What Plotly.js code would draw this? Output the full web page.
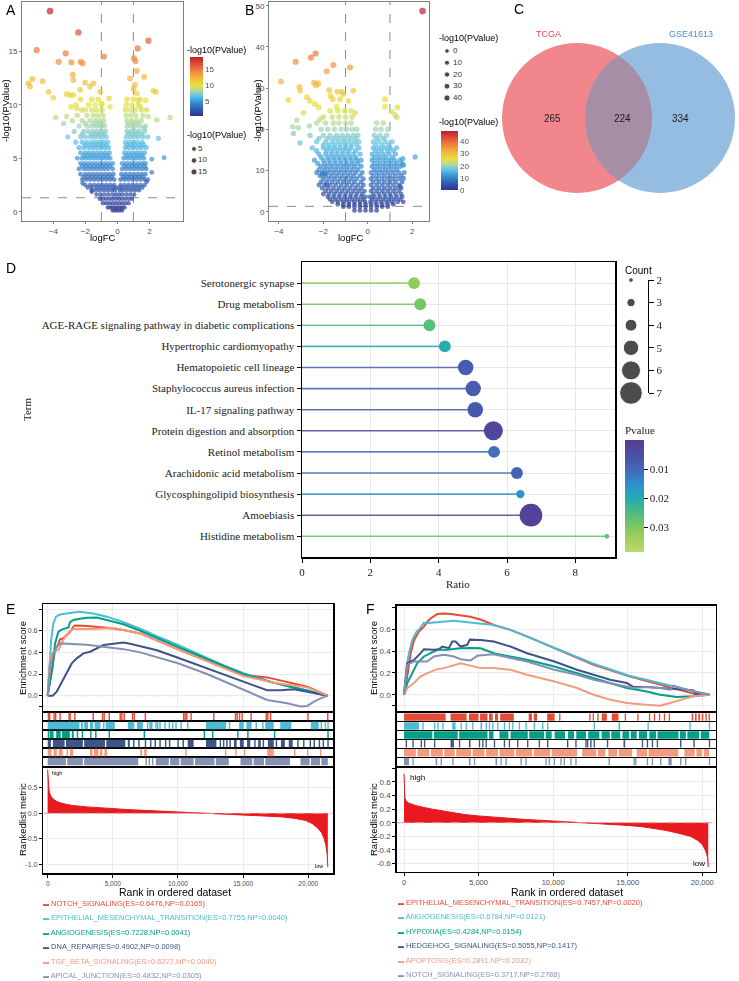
<!DOCTYPE html>
<html><head><meta charset="utf-8">
<script src="https://cdn.plot.ly/plotly-3.0.1.min.js"></script>
<style>html,body{margin:0;padding:0;background:#fff}#chart{width:739px;height:981px}</style>
</head><body><div id="chart"></div>
<script>
// ================= DATA =================
// Panel A: volcano (TCGA) - scattered points
const volcA_outFC = [-4.21,-2.44,-5.04,-3.23,-0.83,1.94,1.27,-3.67,-2.875,-2.29,-2.17,1.04,1.125,1.21,1.67,0.79,-5.56,-5.31,-5.46,-4.67,-2.79,-2.75,-2.02,-1.5,-1.71,-2.33,-1.08,2.25,2.4,-4.29,-4.0,-3.17,-2.96,-2.75,1.1,1.0,1.21,1.31,1.77,3.29,2.56,2.92,2.15,2.15,-3.85,-3.37,-3.17,-3.1,-2.23,-0.52,-0.46,-0.98,-2.9,-2.54,1.42,1.83,1.94,2.46,1.67,-2.17,-1.6,1.83];
const volcA_outP = [18.75,16.76,15.1,14.8,14.5,15.98,15.26,14.0,13.96,14.0,13.86,14.33,14.08,13.15,12.6,12.46,12.0,12.4,11.7,12.2,12.8,12.3,12.06,12.0,11.7,11.4,11.2,11.3,11.2,11.2,10.65,11.0,10.9,10.9,11.84,11.5,11.06,10.4,10.4,8.8,6.85,5.05,4.9,3.68,8.8,8.25,8.9,7.0,9.5,10.6,9.8,10.1,9.8,9.66,9.8,9.5,8.9,8.57,7.8,2.65,1.87,2.8];
// Panel A: dense core, one row of logFC values per -log10(P) level
const volcA_coreP = [0.1,0.4,0.8,1.2,1.6,2.0,2.5,3.0,3.5,4.0,4.5,5.0,5.5,6.0,6.5,7.0,7.5,8.0,8.5,9.0,9.5,10.0,10.5,2.25,3.25,4.25,5.25,6.25,7.25,8.25];
const volcA_coreFC = [
 [-0.3,-0.15,0,0.15,0.3],
 [-0.6,-0.45,-0.3,-0.15,0,0.15,0.3,0.45],
 [-0.9,-0.7,-0.5,-0.3,-0.1,0.1,0.3,0.5,0.7],
 [-1.1,-0.9,-0.7,-0.5,-0.3,-0.1,0.1,0.3,0.5,0.7,0.9],
 [-1.3,-1.05,-0.8,-0.55,-0.3,-0.1,0.1,0.3,0.55,0.8,1.05],
 [-1.6,-1.35,-1.1,-0.85,-0.6,-0.35,-0.15,0.15,0.35,0.6,0.85,1.1,1.35],
 [-2.0,-1.7,-1.45,-1.2,-0.95,-0.7,-0.45,-0.2,0.2,0.45,0.7,0.95,1.2,1.45,1.7],
 [-2.2,-1.95,-1.7,-1.45,-1.2,-0.95,-0.7,-0.45,-0.2,0.2,0.45,0.7,0.95,1.2,1.45,1.7,1.9],
 [-2.3,-2.0,-1.75,-1.5,-1.25,-1.0,-0.75,-0.5,-0.25,0.25,0.5,0.75,1.0,1.25,1.5,1.75],
 [-2.4,-2.1,-1.85,-1.6,-1.35,-1.1,-0.85,-0.6,-0.3,0.3,0.55,0.8,1.05,1.3,1.55,1.8],
 [-2.3,-2.05,-1.8,-1.55,-1.3,-1.05,-0.8,-0.55,-0.3,0.3,0.55,0.8,1.05,1.3,1.55,1.75],
 [-2.5,-2.2,-1.95,-1.7,-1.45,-1.2,-0.95,-0.7,-0.45,0.4,0.65,0.9,1.15,1.4,1.65],
 [-2.3,-2.0,-1.75,-1.5,-1.25,-1.0,-0.75,-0.5,0.45,0.7,0.95,1.2,1.45,1.7],
 [-2.4,-2.1,-1.8,-1.55,-1.3,-1.05,-0.8,-0.55,0.5,0.75,1.0,1.25,1.5,1.8],
 [-2.6,-2.2,-1.9,-1.6,-1.35,-1.1,-0.85,-0.6,0.5,0.75,1.0,1.25,1.55],
 [-2.3,-2.0,-1.7,-1.45,-1.2,-0.95,-0.7,0.55,0.8,1.05,1.3,1.6,1.9],
 [-2.7,-2.1,-1.8,-1.5,-1.25,-1.0,-0.75,0.6,0.85,1.1,1.35,1.7],
 [-2.4,-1.9,-1.6,-1.3,-1.05,-0.8,0.6,0.85,1.1,1.4,1.75],
 [-2.8,-2.2,-1.7,-1.35,-1.1,-0.85,0.6,0.9,1.2,1.5],
 [-2.5,-1.9,-1.5,-1.2,-0.9,0.55,0.85,1.15,1.6],
 [-2.0,-1.6,-1.3,-0.95,0.5,0.8,1.1,1.5],
 [-2.6,-1.8,-1.4,-1.0,0.55,0.9,1.3],
 [-2.3,-1.6,-1.2,0.6,1.0,1.4],
 [-1.85,-1.6,-1.3,-1.05,-0.8,-0.55,-0.3,-0.1,0.1,0.3,0.55,0.8,1.05,1.3,1.55],
 [-2.1,-1.85,-1.6,-1.35,-1.1,-0.85,-0.6,-0.35,0.35,0.6,0.85,1.1,1.35,1.6],
 [-2.2,-1.95,-1.7,-1.45,-1.2,-0.95,-0.7,-0.45,0.45,0.7,0.95,1.2,1.45,1.7],
 [-2.1,-1.85,-1.6,-1.35,-1.1,-0.85,-0.6,0.55,0.8,1.05,1.3,1.55],
 [-2.0,-1.7,-1.45,-1.2,-0.95,-0.7,0.6,0.85,1.1,1.4,1.65],
 [-2.2,-1.6,-1.35,-1.1,-0.85,0.7,0.95,1.2,1.5],
 [-2.0,-1.45,-1.2,-0.95,0.7,1.0,1.3]
];
const sizeLegendA = [5,10,15];

// Panel B: volcano (GSE41613)
const volcB_outFC = [2.47,-2.35,-2.56,-3.25,-1.55,-0.8,-1.85,-3.91,-2.42,-2.23,-2.33,-3.08,-3.05,-1.74,-0.65,-1.37,-1.17,-1.1,-2.74,-3.58,-2.6,-1.67,-1.58,-1.25,-0.87,0.78,-2.38,-2.2,0.78,1.34,1.08,-2.9,-2.15,1.31,-3.2,1.23,-3.38,-3.13,-2.63,-3.35,-3.05,-0.57,-1.4,2.14,1.58,1.61,1.64,1.61,-1.85,-1.92,-2.05,1.46];
const volcB_outP = [48.7,38.4,37.4,36.4,35.6,35.0,34.1,31.6,31.3,31.1,30.7,30.3,29.4,29.5,29.4,29.1,29.1,28.5,27.8,27.1,26.9,28.1,27.3,27.3,26.9,27.3,26.1,25.3,25.5,25.3,24.3,24.0,22.4,22.9,22.2,23.5,20.6,20.4,20.8,19.0,16.7,24.0,25.5,13.3,12.9,11.3,9.5,8.1,6.5,9.3,9.1,6.1];
const volcB_coreP = [0.3,1.2,2.4,3.6,5.0,6.5,8.0,9.5,11.0,12.5,14.0,15.5,17.0,18.5,20.0,21.5,23.0,24.5,1.8,3.0,4.3,5.7,7.2,8.7,10.2,11.7,13.2,14.8,16.2,17.8];
const volcB_coreFC = [
 [-0.6,-0.35,-0.1,0.15,0.4],
 [-1.1,-0.85,-0.6,-0.35,-0.1,0.15,0.4,0.65,0.9],
 [-1.6,-1.35,-1.1,-0.85,-0.6,-0.35,-0.12,0.12,0.35,0.6,0.85,1.1,1.35,1.6],
 [-1.8,-1.55,-1.3,-1.05,-0.8,-0.55,-0.3,-0.1,0.1,0.3,0.55,0.8,1.05,1.3,1.55],
 [-1.9,-1.65,-1.4,-1.15,-0.9,-0.65,-0.4,-0.15,0.15,0.4,0.65,0.9,1.15,1.4],
 [-2.2,-1.95,-1.7,-1.45,-1.2,-0.95,-0.7,-0.45,-0.2,0.15,0.4,0.65,0.9,1.15,1.4],
 [-2.0,-1.75,-1.5,-1.25,-1.0,-0.75,-0.5,-0.2,0.15,0.4,0.65,0.9,1.15,1.4],
 [-2.3,-2.05,-1.8,-1.55,-1.3,-1.05,-0.8,-0.55,-0.25,0.15,0.4,0.65,0.9,1.15,1.4],
 [-2.1,-1.85,-1.6,-1.35,-1.1,-0.85,-0.6,-0.3,0.2,0.45,0.7,0.95,1.2,1.45],
 [-2.4,-2.0,-1.75,-1.5,-1.25,-1.0,-0.75,-0.5,-0.3,0.2,0.45,0.7,0.95,1.2,1.45],
 [-2.2,-1.9,-1.65,-1.4,-1.15,-0.9,-0.65,-0.35,0.2,0.45,0.7,0.95,1.25],
 [-2.5,-2.0,-1.75,-1.5,-1.25,-1.0,-0.75,-0.4,0.25,0.5,0.75,1.0,1.3],
 [-2.3,-1.9,-1.6,-1.35,-1.1,-0.85,-0.6,-0.4,0.25,0.5,0.8,1.1],
 [-2.6,-2.0,-1.7,-1.4,-1.15,-0.9,-0.65,-0.45,0.3,0.55,0.85],
 [-2.1,-1.8,-1.5,-1.2,-0.95,-0.7,-0.5,0.35,0.6,0.9],
 [-2.3,-1.9,-1.55,-1.3,-1.0,-0.75,0.4,0.7],
 [-2.0,-1.6,-1.3,-1.0,-0.7],
 [-1.7,-1.35,-1.05,-0.75],
 [-1.35,-1.1,-0.85,-0.6,-0.35,-0.1,0.15,0.4,0.65,0.9,1.15],
 [-1.7,-1.45,-1.2,-0.95,-0.7,-0.45,-0.2,0.2,0.45,0.7,0.95,1.2,1.45],
 [-2.0,-1.75,-1.5,-1.25,-1.0,-0.75,-0.5,-0.25,0.25,0.5,0.75,1.0,1.25,1.5],
 [-2.05,-1.8,-1.55,-1.3,-1.05,-0.8,-0.55,-0.3,0.25,0.5,0.75,1.0,1.25,1.5],
 [-2.1,-1.85,-1.6,-1.35,-1.1,-0.85,-0.6,-0.3,0.25,0.5,0.75,1.0,1.25,1.55],
 [-2.15,-1.9,-1.65,-1.4,-1.15,-0.9,-0.65,-0.35,0.25,0.5,0.75,1.0,1.25,1.5],
 [-2.2,-1.95,-1.7,-1.45,-1.2,-0.95,-0.7,-0.45,0.3,0.55,0.8,1.05,1.3],
 [-2.25,-1.95,-1.7,-1.45,-1.2,-0.95,-0.7,-0.45,0.3,0.55,0.8,1.05,1.3,1.55],
 [-2.1,-1.8,-1.55,-1.3,-1.05,-0.8,-0.55,0.3,0.55,0.8,1.1],
 [-2.3,-1.85,-1.6,-1.35,-1.1,-0.85,-0.55,0.35,0.6,0.9,1.15],
 [-2.0,-1.75,-1.5,-1.25,-1.0,-0.75,-0.5,0.35,0.65,0.95],
 [-2.2,-1.8,-1.55,-1.3,-1.05,-0.8,-0.55,0.4,0.7]
];
const sizeLegendB = [0,10,20,30,40];

// Panel C: Venn
const vennSets = ['TCGA','GSE41613'];
const vennCounts = [265,224,334]; // TCGA only, both, GSE41613 only

// Panel D: KEGG lollipop
const termsD = ['Serotonergic synapse','Drug metabolism','AGE-RAGE signaling pathway in diabetic complications','Hypertrophic cardiomyopathy','Hematopoietic cell lineage','Staphylococcus aureus infection','IL-17 signaling pathway','Protein digestion and absorption','Retinol metabolism','Arachidonic acid metabolism','Glycosphingolipid biosynthesis','Amoebiasis','Histidine metabolism'];
const ratioD = [3.28,3.46,3.73,4.18,4.79,5.01,5.07,5.60,5.62,6.29,6.39,6.70,8.92];
const countD = [4,4,4,4,5,5,5,6,4,4,3,7,2];
const pvalD = [0.032,0.029,0.026,0.020,0.008,0.0075,0.007,0.003,0.011,0.009,0.016,0.002,0.027];
const countLegend = [2,3,4,5,6,7];

// Panel E: GSEA (set order = legend order)
const namesE = ['NOTCH_SIGNALING','EPITHELIAL_MESENCHYMAL_TRANSITION','ANGIOGENESIS','DNA_REPAIR','TGF_BETA_SIGNALING','APICAL_JUNCTION'];
const esE = [0.6476,0.7755,0.7228,0.4902,0.6227,0.4832];
const npE = [0.0165,0.0040,0.0041,0.0098,0.0040,0.0305];
const rankE = [
 [0,308,564,820,949,1205,1462,1718,1974,2102,2743,3513,4538,5820,7102,10000,15000,16845,18897,19922,21500],
 [0,130,260,440,640,950,1460,1970,2360,2740,3510,4540,5820,7100,8380,10000,11720,13510,15000,16850,18380,19920,20690,21500],
 [0,180,385,564,820,1077,1333,1590,1718,1974,2487,3000,3769,4538,5820,7102,10000,15000,17359,19922,20948,21500],
 [0,385,692,949,1205,1462,1846,2230,2743,3256,3769,4282,5051,5820,6333,7102,8384,10000,12230,15000,16845,17871,18897,19922,20948,21500],
 [0,128,256,436,820,1077,1333,1718,1974,2743,3513,4538,5307,6077,7102,10000,15000,17359,18897,19922,21500],
 [0,180,436,692,949,1462,2230,3000,3769,4538,5820,7102,10000,12230,15000,16845,18384,19410,19922,20435,20948,21500]
];
const scoreE = [
 [0,0.21,0.42,0.48,0.52,0.53,0.56,0.59,0.637,0.648,0.645,0.637,0.628,0.607,0.575,0.428,0.191,0.169,0.114,0.083,0],
 [0,0.27,0.51,0.67,0.73,0.75,0.76,0.77,0.7755,0.77,0.76,0.73,0.68,0.62,0.55,0.47,0.38,0.28,0.21,0.135,0.09,0.05,0.02,0],
 [0,0.11,0.27,0.48,0.59,0.61,0.62,0.63,0.68,0.70,0.71,0.72,0.7228,0.70,0.66,0.60,0.45,0.20,0.12,0.045,0.012,0],
 [0,0,0.037,0.098,0.16,0.222,0.298,0.345,0.391,0.406,0.437,0.468,0.48,0.4902,0.48,0.455,0.42,0.35,0.25,0.13,0.05,0.05,0.06,0.037,0.012,0],
 [0,0.268,0.375,0.406,0.422,0.483,0.545,0.60,0.615,0.615,0.615,0.6227,0.62,0.60,0.575,0.428,0.182,0.12,0.098,0.077,0],
 [0,0.268,0.391,0.452,0.4832,0.48,0.48,0.47,0.46,0.45,0.43,0.40,0.30,0.20,0.06,-0.04,-0.07,-0.10,-0.095,-0.055,-0.025,0]
];
// gene hits: single rank or [start,end] run of adjacent hits
const hitsE = [
 [0,100,435,560,900,1590,1670,2030,3440,4150,4280,4670,5510,5640,5820,6460,6590,7440,10380,10490,10620,10950,12690,14360,14490,14670,14870,15560,16720,16840,17050,19920,21440],
 [[0,2440],[2550,2700],[2800,3100],[3250,3500],[3600,4050],[4250,4350],[4450,5150],[6150,6650],[6850,7300],7615,[7800,8050],8256,8384,8564,8948,9282,9538,9794,10179,10692,[12150,13700],13897,[14700,15050],[15250,15650],15948,16461,[16700,17350],[17850,18700],[20200,20800],20948,21256,21460],
 [[0,100],[150,450],[650,1000],[1100,1700],[1850,2000],2230,2615,3260,3640,4670,7360,11970,12610,14540,15310,17360,21460],
 [[0,250],[400,1300],[1400,2700],[2800,4400],[4500,5950],[6150,6300],[6550,6650],[6950,7050],[7450,7550],[7850,7950],[8200,8300],8570,[9000,9100],[9300,9400],[9950,10050],[10350,10450],[10750,11200],[12150,12950],[13200,13300],[13450,13550],[13700,13800],[13950,14050],[14300,14500],[14750,15050],[15300,15550],[15850,15950],[16150,16350],[16500,16600],[16900,17350],[17500,17600],[17900,18200],[18500,18800],[19150,19250],[19600,19700],[20100,20200],[20400,20500],[20800,20900],[21100,21200],21460],
 [[0,300],[450,700],[850,1150],[1450,1550],[1700,1950],[3250,3450],[3550,3900],[4000,4200],[4350,4550],[7100,7250],[7400,7600],10560,13600,14400,15050,[16850,17350],18900,19900,20900],
 [[0,1400],[1500,2700],[2800,6950],7500,7750,8000,[8300,9300],[9400,10100],[10200,11200],[11300,12800],[12900,13900],[14800,15700],[15800,16600],[16700,18600],[19400,20100],[20200,20900],[21000,21500]]
];
const metricE_rank = [0,30,100,200,400,700,1000,1500,2000,3000,4000,5000,6000,7000,8000,9000,10000,11000,12000,13000,14000,15000,16000,17000,18000,19000,19800,20300,20700,21000,21200,21350,21450,21500];
const metricE_val = [0.85,0.7,0.45,0.35,0.28,0.23,0.2,0.17,0.15,0.125,0.105,0.09,0.075,0.062,0.05,0.04,0.03,0.02,0.01,0.002,-0.008,-0.02,-0.032,-0.05,-0.07,-0.1,-0.14,-0.2,-0.28,-0.37,-0.48,-0.62,-0.8,-1.05];

// Panel F: GSEA
const namesF = ['EPITHELIAL_MESENCHYMAL_TRANSITION','ANGIOGENESIS','HYPOXIA','HEDGEHOG_SIGNALING','APOPTOSIS','NOTCH_SIGNALING'];
const esF = [0.7457,0.6784,0.4284,0.5055,0.2891,0.3717];
const npF = [0.0020,0.0121,0.0154,0.1417,0.2082,0.2788];
const rankF = [
 [0,223,446,669,1004,1338,1561,1784,2230,2676,3122,3791,4460,5129,6021,7136,8251,10080,11596,12711,15097,17171,18509,19401,20470],
 [0,178,335,558,847,1004,1338,1561,2007,2676,3345,3791,4460,5129,6021,7136,8251,10080,11596,12711,15097,17171,18509,19401,20470],
 [0,223,558,892,1338,1784,2230,2899,3791,4460,5129,6021,7136,8251,10080,11596,12711,13826,14941,16279,17171,18286,18955,19401,20470],
 [0,223,446,669,1115,1338,2007,2342,2565,3011,3234,3457,3791,4237,4415,5129,6021,7136,8251,10080,11596,12711,13826,14941,15387,16279,17171,18063,18732,19401,19513,20470],
 [0,223,669,1115,1561,2230,2676,3345,3791,4237,5129,6021,7136,8251,10080,11596,12711,13826,14941,16056,17171,17840,18509,19401,20470],
 [0,223,669,1115,1561,2007,2676,3345,3791,4460,4906,5575,6021,6690,8251,10080,11596,12711,13826,14941,15387,16279,17171,17840,18063,18732,19401,20470]
];
const scoreF = [
 [0,0.17,0.38,0.50,0.58,0.625,0.67,0.70,0.74,0.7457,0.74,0.73,0.716,0.69,0.64,0.595,0.535,0.427,0.335,0.274,0.168,0.091,0.046,0.01,0],
 [0,0.259,0.381,0.503,0.579,0.595,0.662,0.655,0.662,0.671,0.6784,0.671,0.662,0.655,0.640,0.595,0.534,0.427,0.345,0.284,0.174,0.107,0.061,0.030,0],
 [0,0.107,0.198,0.29,0.351,0.381,0.412,0.412,0.427,0.4284,0.427,0.381,0.351,0.32,0.259,0.198,0.152,0.107,0.061,0.03,0,-0.021,-0.021,-0.015,0],
 [0,0.29,0.305,0.32,0.381,0.418,0.412,0.418,0.442,0.427,0.488,0.488,0.442,0.457,0.5055,0.503,0.488,0.442,0.381,0.305,0.229,0.183,0.137,0.107,0.070,0.070,0.061,0.052,0.040,0.040,0.009,0],
 [0,0.061,0.107,0.168,0.198,0.235,0.244,0.274,0.2891,0.274,0.244,0.244,0.229,0.183,0.122,0.061,0,-0.046,-0.076,-0.091,-0.101,-0.076,-0.052,-0.015,0],
 [0,0.274,0.305,0.305,0.305,0.351,0.366,0.351,0.326,0.314,0.357,0.366,0.3717,0.351,0.305,0.229,0.183,0.137,0.107,0.076,0.061,0.070,0.061,0.046,0.082,0.052,0.030,0]
];
const hitsF = [
 [[0,2790],[3120,4200],[4350,5000],[5100,5600],[5700,5950],[6100,6300],[6450,7360],[8360,8580],[8700,8920],[9600,10100],10400,12420,12650,12960,[13260,13600],[13930,14380],14800,15640,16420,16750,17090,17420,17750,[19290,19400],[19510,19620],[19730,19850],[19960,20070],20210,20420],
 [[0,1000],1227,2007,2230,2565,[3234,3457],3791,4126,4572,[5129,5240],5464,5687,5910,6244,6690,7025,7248,7694,8140,8697,9255,9589,12711,[14384,14495],16324,19133,20440],
 [[0,1900],[2000,3600],[3700,5600],[5700,6000],[6400,7000],[7150,8300],[8400,9400],[9500,9900],[10100,10800],[11000,11400],[11550,12200],[12350,13100],[13250,13800],[13900,14500],[14650,15100],[15200,15600],[15750,16300],[16450,16900],[17000,18400],[18500,18900],[19000,19800],[19900,20470]],
 [111,558,1115,1338,2007,[3122,3345],3680,[4349,4460],5018,5241,5464,6021,6690,7025,7582,8251,9032,9589,10927,11485,12154,12265,12488,12711,13603,[14718,14830],15945,16279,16614,16948,18509,19401,20440],
 [[0,800],[900,1700],[1800,2600],[2700,3400],[3500,4500],[4600,5400],[5500,6300],[6400,7400],[7500,8600],[8700,9800],[9900,11600],[11950,12900],[13000,13500],[13700,14300],[14400,15300],[15600,16300],[16400,18400],[18800,19500],[19600,20000],[20100,20470]],
 [[0,335],558,[2118,2230],2453,3234,[4349,4460],4683,[6132,6244],6467,6802,7805,8140,9478,9701,10035,10481,10704,11150,11485,13715,15387,15498,16279,16614,17171,[17728,17951],18509,18843,20440]
];
const metricF_rank = [0,20,60,150,300,700,1000,1860,2970,4070,5000,6000,7000,8000,9000,10000,11000,12000,13000,14000,15000,16000,17000,17500,18500,19200,19700,20000,20200,20350,20400];
const metricF_val = [0.72,0.5,0.36,0.32,0.29,0.26,0.24,0.2,0.16,0.12,0.1,0.08,0.065,0.05,0.038,0.025,0.015,0.005,-0.005,-0.02,-0.04,-0.06,-0.09,-0.11,-0.16,-0.2,-0.26,-0.32,-0.4,-0.5,-0.65];

// ================= STYLE / BUILD =================
const W = 739, H = 981;
const px = v => v / W, py = v => 1 - v / H;
const xd = (a, b) => [a / W, b / W];
const yd = (top, bot) => [1 - bot / H, 1 - top / H];
const SANS = 'Liberation Sans, Arial, sans-serif';
const SERIF = 'Liberation Serif, Times New Roman, serif';
const pal = ['#E64B35','#4DBBD5','#00A087','#3C5488','#F39B7F','#8491B4'];
const volcScale = [[0,'#2c3591'],[0.12,'#2f5cb0'],[0.25,'#3a98d8'],[0.33,'#5cbfe6'],[0.42,'#a6d5b0'],[0.52,'#e6e23a'],[0.66,'#f4b23e'],[0.82,'#ea6a3c'],[1,'#be1e2d']];
const pScale = [[0,'#bcdb6a'],[0.18,'#8fca5c'],[0.33,'#55bd7c'],[0.47,'#25adae'],[0.6,'#2f90cf'],[0.74,'#4567b8'],[0.87,'#4a4fa3'],[1,'#5a3a92']];
const sizeA = v => 4.3 + 0.13 * v;
const sizeB = v => 4.7 + 0.04 * v;
const sizeD = c => 3.6 * c - 2.5;

function flatten(levels, rows) {
  const pts = [];
  levels.forEach((lv, i) => rows[i].forEach(x => pts.push([x, lv])));
  pts.sort((a, b) => a[1] - b[1]);
  return [pts.map(p => p[0]), pts.map(p => p[1])];
}
const [coreAx, coreAy] = flatten(volcA_coreP, volcA_coreFC);
const [coreBx, coreBy] = flatten(volcB_coreP, volcB_coreFC);
const Ax = coreAx.concat(volcA_outFC), Ay = coreAy.concat(volcA_outP);
const Bx = coreBx.concat(volcB_outFC), By = coreBy.concat(volcB_outP);

const traces = [];
// A volcano
traces.push({type:'scatter', mode:'markers', xaxis:'x', yaxis:'y', x:Ax, y:Ay, hoverinfo:'skip',
  marker:{size:Ay.map(sizeA), color:Ay, colorscale:volcScale, cmin:0.3, cmax:19, line:{width:0},
    colorbar:{x:px(190), xanchor:'left', y:py(116), yanchor:'bottom', len:59, lenmode:'pixels', thickness:13,
      xpad:0, ypad:0, outlinewidth:0, ticks:'', tickvals:[5,10,15], tickfont:{family:SANS, size:8, color:'#4d4d4d'}, title:{text:''}}}});
traces.push({type:'scatter', mode:'markers', xaxis:'x3', yaxis:'y3', x:sizeLegendA.map(()=>9), y:sizeLegendA,
  marker:{size:sizeLegendA.map(sizeA), color:'#000'}, hoverinfo:'skip', cliponaxis:false});
traces.push({type:'scatter', mode:'text', xaxis:'x3', yaxis:'y3', x:sizeLegendA.map(()=>13), y:sizeLegendA,
  text:sizeLegendA.map(String), textposition:'middle right', textfont:{family:SANS, size:8, color:'#333'}, hoverinfo:'skip', cliponaxis:false});
// B volcano
traces.push({type:'scatter', mode:'markers', xaxis:'x2', yaxis:'y2', x:Bx, y:By, hoverinfo:'skip',
  marker:{size:By.map(sizeB), color:By, colorscale:volcScale, cmin:0, cmax:48.7, line:{width:0},
    colorbar:{x:px(441), xanchor:'left', y:py(190), yanchor:'bottom', len:59, lenmode:'pixels', thickness:17,
      xpad:0, ypad:0, outlinewidth:0, ticks:'', tickvals:[0,10,20,30,40], tickfont:{family:SANS, size:8, color:'#4d4d4d'}, title:{text:''}}}});
traces.push({type:'scatter', mode:'markers', xaxis:'x4', yaxis:'y4', x:sizeLegendB.map(()=>10), y:sizeLegendB,
  marker:{size:sizeLegendB.map(sizeB), color:'#000'}, hoverinfo:'skip', cliponaxis:false});
traces.push({type:'scatter', mode:'text', xaxis:'x4', yaxis:'y4', x:sizeLegendB.map(()=>16), y:sizeLegendB,
  text:sizeLegendB.map(String), textposition:'middle right', textfont:{family:SANS, size:8, color:'#333'}, hoverinfo:'skip', cliponaxis:false});
// D lollipop
const negP = pvalD.map(p => -p);
traces.push({type:'bar', orientation:'h', xaxis:'x5', yaxis:'y5', y:termsD, x:ratioD, base:0, width:0.075, opacity:0.85,
  marker:{color:negP, colorscale:pScale, cmin:-0.0385, cmax:0, line:{width:0}}, hoverinfo:'skip'});
traces.push({type:'scatter', mode:'markers', xaxis:'x5', yaxis:'y5', y:termsD, x:ratioD, hoverinfo:'skip', cliponaxis:false,
  marker:{size:countD.map(sizeD), color:negP, colorscale:pScale, cmin:-0.0385, cmax:0, opacity:1, line:{width:0},
    colorbar:{x:px(625), xanchor:'left', y:py(552), yanchor:'bottom', len:112, lenmode:'pixels', thickness:19,
      xpad:0, ypad:0, outlinewidth:0, ticks:'outside', ticklen:4, tickcolor:'#000', tickwidth:1,
      tickvals:[-0.01,-0.02,-0.03], ticktext:['0.01','0.02','0.03'], tickfont:{family:SERIF, size:11, color:'#222'}, title:{text:''}}}});
traces.push({type:'scatter', mode:'markers', xaxis:'x6', yaxis:'y6', x:countLegend.map(()=>0), y:countLegend,
  marker:{size:countLegend.map(sizeD), color:'#000'}, hoverinfo:'skip', cliponaxis:false});

// GSEA builder
function hitBars(hits, xa, ya, minW) {
  return hits.map((segs, i) => ({type:'bar', orientation:'h', xaxis:xa, yaxis:ya,
    y:segs.map(() => 5.5 - i),
    base:segs.map(s => Array.isArray(s) ? s[0] : s),
    x:segs.map(s => Array.isArray(s) ? Math.max(s[1] - s[0], minW) : minW),
    width:0.84, marker:{color:pal[i], line:{width:0}}, hoverinfo:'skip'}));
}
function gsea(ranks, scores, hits, mR, mV, xs, minW) {
  ranks.forEach((r, i) => traces.push({type:'scatter', mode:'lines', xaxis:xs[0], yaxis:xs[1], x:r, y:scores[i],
    line:{color:pal[i], width:2}, hoverinfo:'skip'}));
  hitBars(hits, xs[2], xs[3], minW).forEach(t => traces.push(t));
  traces.push({type:'scatter', mode:'lines', xaxis:xs[4], yaxis:xs[5], x:mR, y:mV, fill:'tozeroy',
    fillcolor:'#E8191F', line:{color:'#E8191F', width:1}, hoverinfo:'skip'});
}
gsea(rankE, scoreE, hitsE, metricE_rank, metricE_val, ['x7','y7','x8','y8','x9','y9'], 110);
gsea(rankF, scoreF, hitsF, metricF_rank, metricF_val, ['x10','y10','x11','y11','x12','y12'], 90);

// ---- axes
const base = {showgrid:false, zeroline:false, showline:false, ticks:'', showticklabels:false, fixedrange:true};
const ax = o => Object.assign({}, base, o);
const volcStyle = {showline:true, mirror:true, linecolor:'#7f7f7f', linewidth:1, ticks:'outside', ticklen:2, tickcolor:'#7f7f7f',
  showticklabels:true, tickfont:{family:SANS, size:8, color:'#4d4d4d'}};
const gx = (d, r, lab, grid, fs) => ax({domain:xd(d[0], d[1]), range:r, showline:true, mirror:true, linecolor:'#000', linewidth:1.4,
  showgrid:grid, gridcolor:'#ececec', tickvals:[0,5000,10000,15000,20000], ticks:lab ? 'outside' : '', ticklen:3, tickcolor:'#000',
  showticklabels:lab, tickformat:',', tickfont:{family:SANS, size:fs, color:'#4d4d4d'}});
const gy = (t, b, r, tv, tt, fs) => ax({domain:yd(t, b), range:r, showline:true, mirror:true, linecolor:'#000', linewidth:1.4,
  showgrid:true, gridcolor:'#ececec', tickvals:tv, ticktext:tt, ticks:'outside', ticklen:3, tickcolor:'#000',
  showticklabels:true, tickfont:{family:SANS, size:fs, color:'#4d4d4d'}});
const hy = (t, b) => ax({domain:yd(t, b), range:[0,6], showline:true, mirror:true, linecolor:'#000', linewidth:1.4,
  showgrid:true, gridcolor:'#000', gridwidth:1.2, tickvals:[1,2,3,4,5]});

const EX = [43.3, 333.3], ER = [-337, 21920];
const FX = [396.7, 716], FR = [-490, 20920];
const esTicks = [-0.1,0,0.2,0.4,0.6,0.8], esText = ['','0.0','0.2','0.4','0.6',''];

const layout = {
  width:W, height:H, margin:{l:0, r:0, t:0, b:0}, paper_bgcolor:'#fff', plot_bgcolor:'rgba(0,0,0,0)',
  showlegend:false, barmode:'overlay', font:{family:SANS, color:'#000'},
  xaxis: ax(Object.assign({}, volcStyle, {domain:xd(22,183), range:[-5.96,4.1], tickvals:[-4,-2,0,2], anchor:'y'})),
  yaxis: ax(Object.assign({}, volcStyle, {domain:yd(2,221), range:[-0.87,19.6], tickvals:[0,5,10,15], anchor:'x'})),
  xaxis2: ax(Object.assign({}, volcStyle, {domain:xd(269,429), range:[-4.45,2.76], tickvals:[-4,-2,0,2], anchor:'y2'})),
  yaxis2: ax(Object.assign({}, volcStyle, {domain:yd(2,221), range:[-2.26,50.9], tickvals:[0,10,20,30,40,50], anchor:'x2'})),
  xaxis3: ax({domain:xd(185,245), range:[0,60], anchor:'y3'}),
  yaxis3: ax({domain:yd(140,180), range:[18.5,1.09], anchor:'x3'}),
  xaxis4: ax({domain:xd(437,497), range:[0,60], anchor:'y4'}),
  yaxis4: ax({domain:yd(44,104), range:[45.1,-5.96], anchor:'x4'}),
  xaxis5: ax({domain:xd(302,615), range:[0,9.16], anchor:'y5', showgrid:true, gridcolor:'#e6e6e6', showline:true, mirror:true,
    linecolor:'#000', linewidth:1.5, ticks:'outside', ticklen:4, tickcolor:'#000', showticklabels:true, tickvals:[0,2,4,6,8],
    tickfont:{family:SERIF, size:11, color:'#222'}}),
  yaxis5: ax({domain:yd(262,557), type:'category', categoryorder:'array', categoryarray:termsD, range:[12.98,-1], anchor:'x5',
    showgrid:true, gridcolor:'#e6e6e6', showline:true, mirror:true, linecolor:'#000', linewidth:1.5, ticks:'outside', ticklen:4,
    tickcolor:'#000', showticklabels:true, tickfont:{family:SERIF, size:11, color:'#222'}}),
  xaxis6: ax({domain:xd(620,642), range:[-1.64,1.64], anchor:'y6'}),
  yaxis6: ax({domain:yd(280,393), range:[7,2], anchor:'free', position:px(648), side:'right', showline:true, linecolor:'#000',
    linewidth:1.2, ticks:'outside', ticklen:5, tickcolor:'#000', tickvals:countLegend, showticklabels:true,
    tickfont:{family:SERIF, size:11, color:'#222'}}),
  xaxis7: Object.assign(gx(EX, ER, false, true, 7), {anchor:'y7'}),
  yaxis7: Object.assign(gy(604, 711.7, [-0.148,0.847], esTicks, esText, 7), {anchor:'x7'}),
  xaxis8: Object.assign(gx(EX, ER, false, false, 7), {anchor:'y8'}),
  yaxis8: Object.assign(hy(712, 766), {anchor:'x8'}),
  xaxis9: Object.assign(gx(EX, ER, true, true, 6.5), {anchor:'y9'}),
  yaxis9: Object.assign(gy(767.7, 873.3, [-1.17,0.889], [-1,-0.5,0,0.5], ['-1.0','-0.5','0.0','0.5'], 7), {anchor:'x9'}),
  xaxis10: Object.assign(gx(FX, FR, false, true, 8), {anchor:'y10'}),
  yaxis10: Object.assign(gy(605.7, 711.7, [-0.156,0.817], esTicks, esText, 8), {anchor:'x10'}),
  xaxis11: Object.assign(gx(FX, FR, false, false, 8), {anchor:'y11'}),
  yaxis11: Object.assign(hy(712.7, 766), {anchor:'x11'}),
  xaxis12: Object.assign(gx(FX, FR, true, true, 7.5), {anchor:'y12'}),
  yaxis12: Object.assign(gy(767.7, 871.7, [-0.72,0.809], [-0.6,-0.4,-0.2,0,0.2,0.4,0.6,0.8], ['-0.6','-0.4','-0.2','0.0','0.2','0.4','0.6',''], 8), {anchor:'x12'})
};

// ---- shapes
const dashV = (xa, ya, x) => ({type:'line', xref:xa, yref:ya + ' domain', x0:x, x1:x, y0:0, y1:1, layer:'below', line:{color:'#8a8a8a', width:1, dash:'dash'}});
const dashH = (xa, ya, y, col) => ({type:'line', xref:xa + ' domain', yref:ya, x0:0, x1:1, y0:y, y1:y, layer:'below', line:{color:col || '#8a8a8a', width:1, dash:'dash'}});
const pCut = -Math.log10(0.05);
const shapes = [
  dashV('x','y',-1), dashV('x','y',1), dashH('x','y',pCut),
  dashV('x2','y2',-1), dashV('x2','y2',1), dashH('x2','y2',pCut),
  dashH('x7','y7',0,'#c8c8c8'), dashH('x10','y10',0,'#c8c8c8'),
  Object.assign(dashH('x9','y9',0,'#e89a9a'), {layer:'above'}), Object.assign(dashH('x12','y12',0,'#e89a9a'), {layer:'above'})
];
// Venn circles + overlap lens
const vc = [{cx:577, cy:118, r:75, col:'#F1868D'}, {cx:660, cy:118, r:75, col:'#95BDE1'}];
vc.forEach(c => shapes.push({type:'circle', xref:'paper', yref:'paper', x0:px(c.cx - c.r), x1:px(c.cx + c.r), y0:py(c.cy + c.r), y1:py(c.cy - c.r), fillcolor:c.col, line:{width:0}}));
(function () {
  const c1 = vc[0], c2 = vc[1], r = c1.r, a = (c2.cx - c1.cx) / 2, h = Math.sqrt(r * r - a * a), t = Math.atan2(h, a);
  const pts = [];
  for (let k = 0; k <= 40; k++) { const g = -t + 2 * t * k / 40; pts.push([c1.cx + r * Math.cos(g), c1.cy + r * Math.sin(g)]); }
  for (let k = 0; k <= 40; k++) { const g = Math.PI - t + 2 * t * k / 40; pts.push([c2.cx + r * Math.cos(g), c2.cy + r * Math.sin(g)]); }
  shapes.push({type:'path', xref:'paper', yref:'paper', path:'M' + pts.map(p => px(p[0]).toFixed(5) + ',' + py(p[1]).toFixed(5)).join('L') + 'Z', fillcolor:'#A78EA7', line:{width:0}});
})();
layout.shapes = shapes;

// ---- annotations
const ann = (x, y, text, o) => Object.assign({xref:'paper', yref:'paper', x:px(x), y:py(y), text:text, showarrow:false, xanchor:'center', yanchor:'middle',
  font:{family:SANS, size:9, color:'#000'}}, o || {});
const anns = [
  ann(4, 10, 'A', {xanchor:'left', font:{family:SANS, size:14}}),
  ann(243, 10, 'B', {xanchor:'left', font:{family:SANS, size:14}}),
  ann(512, 9, 'C', {xanchor:'left', font:{family:SANS, size:14}}),
  ann(4, 268, 'D', {xanchor:'left', font:{family:SANS, size:14}}),
  ann(4, 609, 'E', {xanchor:'left', font:{family:SANS, size:14}}),
  ann(364, 609, 'F', {xanchor:'left', font:{family:SANS, size:14}}),
  ann(102, 237, 'logFC', {font:{family:SANS, size:9.5}}),
  ann(350, 237, 'logFC', {font:{family:SANS, size:9.5}}),
  ann(5, 111, '-log10(PValue)', {textangle:-90, font:{family:SANS, size:9.5}}),
  ann(257, 111, '-log10(PValue)', {textangle:-90, font:{family:SANS, size:9.5}}),
  ann(185, 50, '-log10(PValue)', {xanchor:'left', font:{family:SANS, size:9}}),
  ann(185, 135, '-log10(PValue)', {xanchor:'left', font:{family:SANS, size:9}}),
  ann(437, 38, '-log10(PValue)', {xanchor:'left', font:{family:SANS, size:9}}),
  ann(437, 122, '-log10(PValue)', {xanchor:'left', font:{family:SANS, size:9}}),
  ann(548, 34, vennSets[0], {font:{family:SANS, size:9, color:'#E8474F'}}),
  ann(691, 34, vennSets[1], {font:{family:SANS, size:9, color:'#4A8FD0'}}),
  ann(552, 118, String(vennCounts[0]), {font:{family:SANS, size:10, color:'#222'}}),
  ann(622, 118, String(vennCounts[1]), {font:{family:SANS, size:10, color:'#222'}}),
  ann(680, 118, String(vennCounts[2]), {font:{family:SANS, size:10, color:'#222'}}),
  ann(27, 410, 'Term', {textangle:-90, font:{family:SERIF, size:11, color:'#222'}}),
  ann(458, 584, 'Ratio', {font:{family:SERIF, size:11, color:'#222'}}),
  ann(638, 270, 'Count', {font:{family:SANS, size:10}}),
  ann(640, 430, 'Pvalue', {font:{family:SERIF, size:11, color:'#222'}}),
  ann(22, 658, 'Enrichment score', {textangle:-90, font:{family:SANS, size:9.5}}),
  ann(22, 820, 'Rankedlist metric', {textangle:-90, font:{family:SANS, size:9.5}}),
  ann(373, 658, 'Enrichment score', {textangle:-90, font:{family:SANS, size:9.5}}),
  ann(373, 820, 'Rankedlist metric', {textangle:-90, font:{family:SANS, size:9.5}}),
  ann(175, 892, 'Rank in ordered dataset', {font:{family:SANS, size:10.5}}),
  ann(567, 892, 'Rank in ordered dataset', {font:{family:SANS, size:10.5}}),
  {xref:'x9', yref:'y9', x:200, y:0.78, text:'high', showarrow:false, xanchor:'left', font:{family:SANS, size:5.5}},
  {xref:'x9', yref:'y9', x:21300, y:-1.02, text:'low', showarrow:false, xanchor:'right', font:{family:SANS, size:5.5}},
  {xref:'x12', yref:'y12', x:250, y:0.67, text:'high', showarrow:false, xanchor:'left', font:{family:SANS, size:8}},
  {xref:'x12', yref:'y12', x:20300, y:-0.6, text:'low', showarrow:false, xanchor:'right', font:{family:SANS, size:8}}
];
const legY = [903, 917.5, 932, 946.5, 961, 975.5];
namesE.forEach((n, i) => anns.push(ann(41, legY[i], '<span style="font-size:6px">▬</span> ' + n + '(ES=' + esE[i].toFixed(4) + ',NP=' + npE[i].toFixed(4) + ')',
  {xanchor:'left', font:{family:SANS, size:7.5, color:pal[i]}})));
namesF.forEach((n, i) => anns.push(ann(396, legY[i] - 1, '<span style="font-size:6px">▬</span> ' + n + '(ES=' + esF[i].toFixed(4) + ',NP=' + npF[i].toFixed(4) + ')',
  {xanchor:'left', font:{family:SANS, size:7.5, color:pal[i]}})));
layout.annotations = anns;

Plotly.newPlot('chart', traces, layout, {displayModeBar:false, staticPlot:true});
</script></body></html>
